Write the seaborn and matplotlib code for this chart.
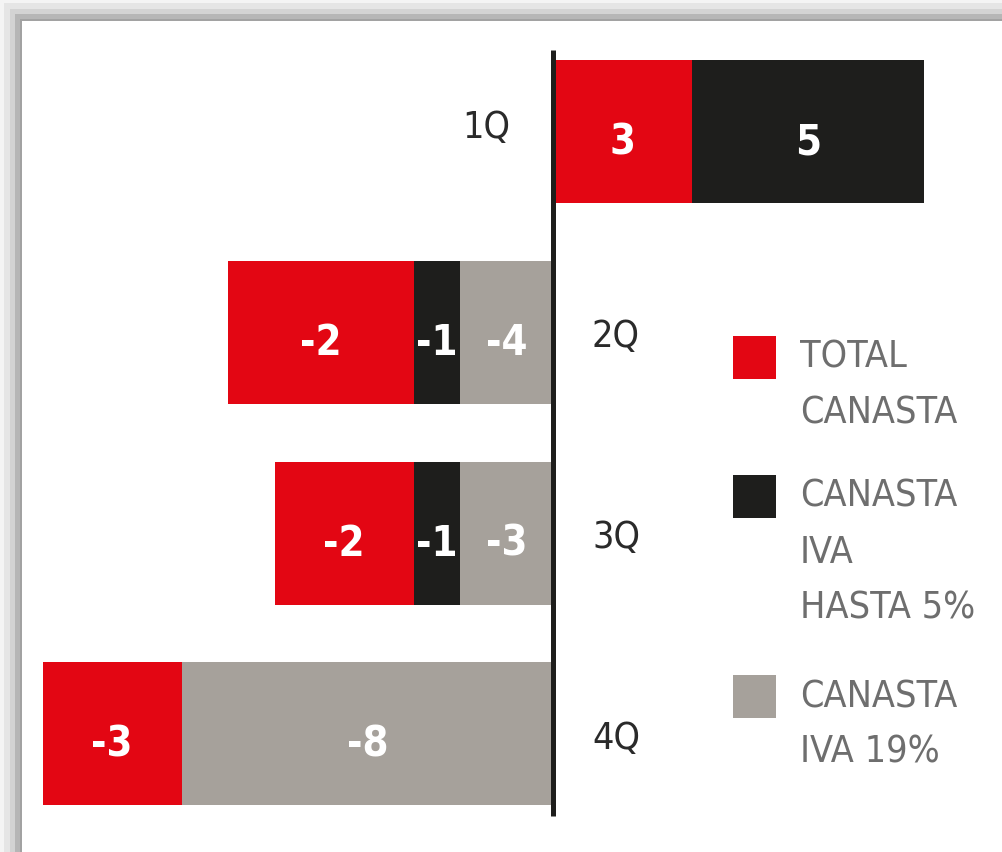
import matplotlib
matplotlib.use("Agg")
import matplotlib.pyplot as plt
from matplotlib.patches import Rectangle
import seaborn as sns
import pandas as pd

# ---------------- data ----------------
quarters = ["1Q", "2Q", "3Q", "4Q"]
series_names = ["TOTAL\nCANASTA", "CANASTA\nIVA\nHASTA 5%", "CANASTA\nIVA 19%"]
# bar lengths as drawn in the picture
total_canasta = [3, -4, -3, -3]
canasta_iva5 = [5, -1, -1, 0]
canasta_iva19 = [0, -2, -2, -8]
# numbers printed on the bars
total_labels = ["3", "-2", "-2", "-3"]
iva5_labels = ["5", "-1", "-1", ""]
iva19_labels = ["", "-4", "-3", "-8"]

colors = ["#e30613", "#1e1e1c", "#a6a19b"]

# ---------------- style ----------------
sns.set_theme(style="white")
plt.rcParams["font.family"] = ["DejaVu Sans Condensed", "DejaVu Sans"]
plt.rcParams["font.stretch"] = "condensed"

W, H = 1002, 853
fig = plt.figure(figsize=(W / 100, H / 100), dpi=100)
fig.patch.set_facecolor("white")

# shadowed frame on top and left
def px_rect(x0, y0, x1, y1, color):
    fig.patches.append(Rectangle((x0 / W, 1 - y1 / H), (x1 - x0) / W, (y1 - y0) / H,
                                 transform=fig.transFigure, facecolor=color,
                                 edgecolor="none", zorder=0))

bands = [(0, 4, "#f4f4f4"), (4, 10, "#e5e5e5"), (10, 15, "#d3d3d3"),
         (15, 20, "#b6b6b6"), (20, 22, "#a2a2a2")]
for a, b, c in bands:
    px_rect(0, a, W, b, c)
for a, b, c in bands:
    px_rect(a, a, b, H, c)

ax = fig.add_axes([0, 0, 1, 1])
ax.patch.set_alpha(0)

# ---------------- build stacked segments ----------------
vals = [total_canasta, canasta_iva5, canasta_iva19]
labs = [total_labels, iva5_labels, iva19_labels]
rows = []
for qi, q in enumerate(quarters):
    pos_order = [0, 1, 2]
    neg_order = [2, 1, 0]
    cum_p, cum_n = 0.0, 0.0
    for si in pos_order:
        v = vals[si][qi]
        if v > 0:
            rows.append(dict(quarter=q, s=si, start=cum_p, end=cum_p + v, label=labs[si][qi]))
            cum_p += v
    for si in neg_order:
        v = vals[si][qi]
        if v < 0:
            rows.append(dict(quarter=q, s=si, start=cum_n, end=cum_n + v, label=labs[si][qi]))
            cum_n += v
seg = pd.DataFrame(rows)
seg["absend"] = seg["end"].abs()

BAR_H = 0.712
for _, r in seg.sort_values("absend", ascending=False).iterrows():
    sns.barplot(x=[r["end"]], y=[r["quarter"]], order=quarters, orient="h",
                color=colors[r["s"]], saturation=1, width=BAR_H,
                errorbar=None, linewidth=0, edgecolor="none", ax=ax)

# value labels
for _, r in seg.iterrows():
    if r["label"]:
        yi = quarters.index(r["quarter"])
        ax.text((r["start"] + r["end"]) / 2, yi + 0.025, r["label"], ha="center",
                va="center_baseline", color="white", fontsize=30,
                fontweight="bold", zorder=5)

# axis scale: 46.4 px per unit, zero at x=553 px; rows 200.8 px apart
ax.set_xlim(-553 / 46.4, (W - 553) / 46.4)
ax.set_ylim((H - 132.5) / 200.8, -132.5 / 200.8)

# central axis line
ax.plot([0, 0], [(51 - 132.5) / 200.8, (817 - 132.5) / 200.8],
        color="#1e1e1c", lw=3.6, solid_capstyle="butt", zorder=6)

# category labels
for qi, q in enumerate(quarters):
    net = sum(v[qi] for v in vals)
    if net > 0:
        ax.text(-43 / 46.4, qi - 0.04, q, ha="right", va="center_baseline",
                fontsize=27, color="#2a2a2a")
    else:
        ax.text(39 / 46.4, qi, q, ha="left", va="center_baseline",
                fontsize=27, color="#2a2a2a")

ax.axis("off")

# ---------------- legend ----------------
leg_tops = [337, 476, 676]
for name, c, top in zip(series_names, colors, leg_tops):
    fig.patches.append(Rectangle((733 / W, 1 - (top + 43) / H), 43 / W, 43 / H,
                                 transform=fig.transFigure, facecolor=c,
                                 edgecolor="none", zorder=3))
    for li, line in enumerate(name.split("\n")):
        fig.text(800 / W, 1 - (top + 3 + li * 56) / H, line, ha="left", va="top",
                 fontsize=27, color="#6e6e6e")

fig.savefig("out.png", dpi=100)
